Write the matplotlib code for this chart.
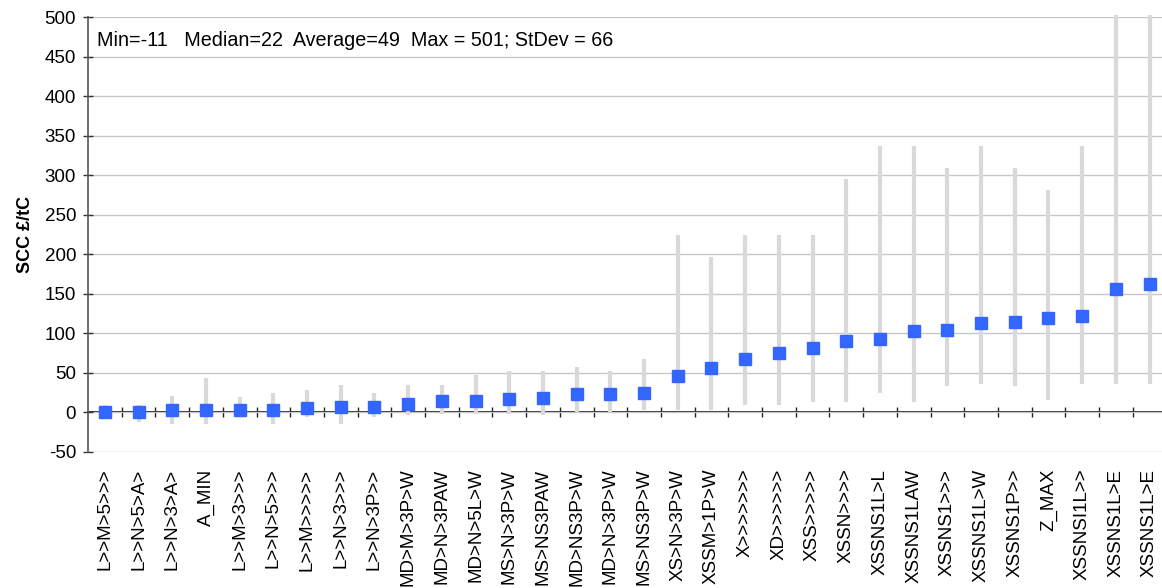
import matplotlib
matplotlib.use("Agg")
import matplotlib.pyplot as plt
import numpy as np

plt.rcParams['font.family'] = ['Liberation Sans', 'DejaVu Sans']
plt.rcParams['axes.unicode_minus'] = False

categories = ["L>>M>5>>>", "L>>N>5>A>", "L>>N>3>A>", "A_MIN", "L>>M>3>>>",
              "L>>N>5>>>", "L>>M>>>>>", "L>>N>3>>>", "L>>N>3P>>", "MD>M>3P>W",
              "MD>N>3PAW", "MD>N>5L>W", "MS>N>3P>W", "MS>NS3PAW", "MD>NS3P>W",
              "MD>N>3P>W", "MS>NS3P>W", "XS>N>3P>W", "XSSM>1P>W", "X>>>>>>>",
              "XD>>>>>>", "XSS>>>>>", "XSSN>>>>", "XSSNS1L>L", "XSSNS1LAW",
              "XSSNS1>>>", "XSSNS1L>W", "XSSNS1P>>", "Z_MAX", "XSSNSI1L>>",
              "XSSNS1L>E", "XSSNS1L>E"]
average = [0, 1, 2.5, 3, 3, 3.5, 6, 7, 7, 11,
           14, 14, 16.5, 18.5, 23, 23, 24, 45.5, 55.7, 67,
           75, 82, 90, 92.4, 102.5, 104.6, 112.6, 114, 120, 121.5,
           155.7, 162]
low = [0, -12, -14, -14, -6, -14, -6, -14, -6, -3,
       -2, -2, -2, -3, 0, 0, 2.5, 3.5, 3.5, 10,
       10, 13, 13, 24.5, 13, 33, 36, 33, 15.5, 36,
       36, 36]
high = [10, 10, 21, 43, 19, 24, 29, 35, 24, 35,
        35, 47, 52, 52, 57, 52, 68, 225, 197, 225,
        225, 225, 295, 337, 337, 309, 337, 309, 281, 337,
        503, 503]
stats_text = "Min=-11   Median=22  Average=49  Max = 501; StDev = 66"

W, H = 1162, 588
fig = plt.figure(figsize=(W / 100, H / 100), dpi=100)
n = len(categories)
left_px, right_px, top_px, bot_px = 88, 88 + n * 33.7, 17, 452
ax = fig.add_axes([left_px / W, 1 - bot_px / H, (right_px - left_px) / W, (bot_px - top_px) / H])

x = np.arange(n)
ax.set_xlim(-0.5, n - 0.5)
ax.set_ylim(-50, 500)

# grid
ax.set_yticks(np.arange(-50, 501, 50))
ax.yaxis.grid(True, color='#c8c8c8', linewidth=1.0)
ax.set_axisbelow(True)

# range bars and averages
ax.vlines(x, low, high, color='#d9d9d9', linewidth=3.0, zorder=2, clip_on=False)
ax.plot(x, average, 's', color='#3366ff', markersize=9, zorder=4, clip_on=False)

# spines
for s in ['top', 'right', 'bottom']:
    ax.spines[s].set_visible(False)
ax.spines['left'].set_color('#555555')
ax.spines['left'].set_linewidth(1.2)

# y ticks
ax.tick_params(axis='y', direction='inout', length=7, width=1.0, color='#333333',
               labelsize=13.5, pad=5)
ax.set_ylabel("SCC £/tC", fontsize=13, fontweight='bold', labelpad=8)

# x labels at category centers
ax.set_xticks(x)
ax.set_xticklabels(categories, rotation=90, fontsize=13.5, va='top', ha='center')
ax.tick_params(axis='x', length=0, pad=12)

# axis line at zero with boundary ticks
sec = ax.secondary_xaxis(50 / 550)
sec.set_xticks(np.arange(n) + 0.5)
sec.set_xticklabels([])
sec.spines['bottom'].set_color('black')
sec.spines['bottom'].set_linewidth(1.2)
sec.tick_params(direction='inout', length=7.5, width=1.0, color='#222222')

ax.text(97 / W, 1 - 41 / H, stats_text, transform=fig.transFigure,
        fontsize=14.2, va='center')

fig.savefig("out.png", dpi=100)
